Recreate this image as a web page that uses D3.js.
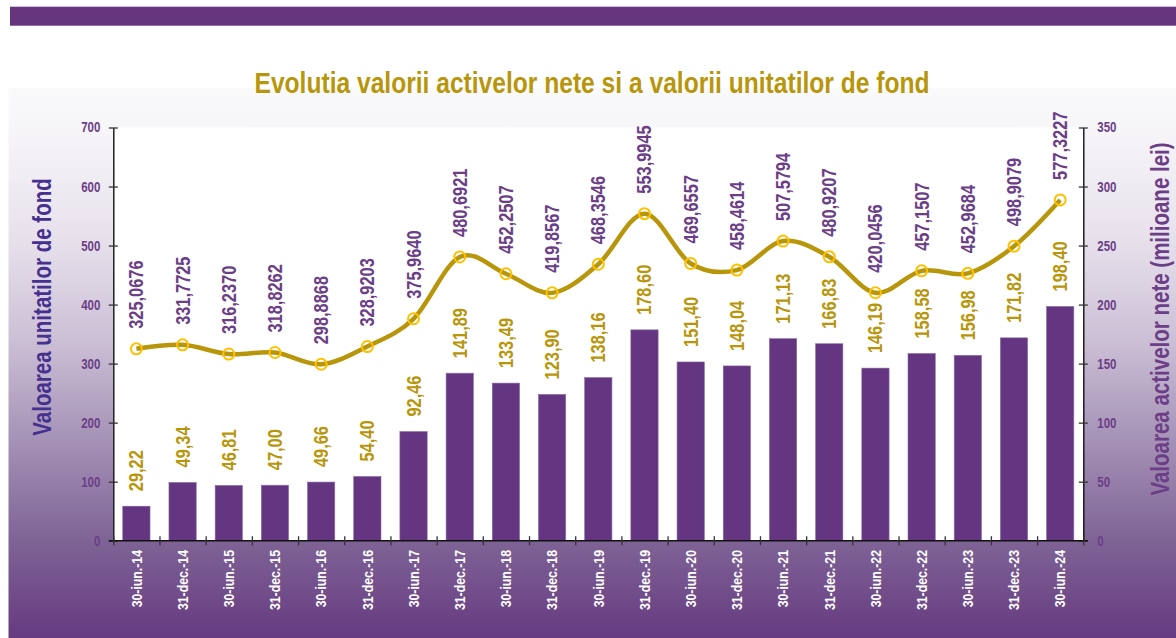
<!DOCTYPE html>
<html>
<head>
<meta charset="utf-8">
<script src="https://cdn.jsdelivr.net/npm/d3@7"></script>
<style>
  body { margin: 0; background: #fff; }
  svg { display: block; }
  text { font-family: "Liberation Sans", Arial, sans-serif; font-weight: bold; }
</style>
</head>
<body>
<div id="chart"></div>
<script>
// categories (x axis)
var categories = ["30-iun.-14", "31-dec.-14", "30-iun.-15", "31-dec.-15", "30-iun.-16", "31-dec.-16",
  "30-iun.-17", "31-dec.-17", "30-iun.-18", "31-dec.-18", "30-iun.-19", "31-dec.-19",
  "30-iun.-20", "31-dec.-20", "30-iun.-21", "31-dec.-21", "30-iun.-22", "31-dec.-22",
  "30-iun.-23", "31-dec.-23", "30-iun.-24"];

// net asset value, million lei (bars, right axis)
var netAssets = [29.22, 49.34, 46.81, 47.00, 49.66, 54.40, 92.46, 141.89, 133.49, 123.90, 138.16,
  178.60, 151.40, 148.04, 171.13, 166.83, 146.19, 158.58, 156.98, 171.82, 198.40];

// unit value (line, left axis)
var unitValues = [325.0676, 331.7725, 316.2370, 318.8262, 298.8868, 328.9203, 375.9640, 480.6921,
  452.2507, 419.8567, 468.3546, 553.9945, 469.6557, 458.4614, 507.5794, 480.9207, 420.0456,
  457.1507, 452.9684, 498.9079, 577.3227];

var leftTicks = [0, 100, 200, 300, 400, 500, 600, 700];
var rightTicks = [0, 50, 100, 150, 200, 250, 300, 350];

var W = 1176, H = 638;
var plot = {left: 113.3, right: 1083.3, top: 127.5, bottom: 540.7};
var narrow = 0.82; // squeeze to look like a condensed face

var purple = "#643580", gold = "#b8960c", labelPurple = "#6b3e87";

var svg = d3.select("#chart").append("svg")
    .attr("width", W).attr("height", H);

// background gradient
var defs = svg.append("defs");
var grad = defs.append("linearGradient").attr("id", "bg")
    .attr("x1", 0).attr("y1", 0).attr("x2", 0).attr("y2", 1);
[[0, "#fafafb"], [0.1, "#f5f3f7"], [0.28, "#e6e0eb"], [0.46, "#cbbfd5"],
 [0.64, "#a592b6"], [0.82, "#7f6496"], [1, "#663a80"]].forEach(function(s) {
    grad.append("stop").attr("offset", s[0]).attr("stop-color", s[1]);
});

svg.append("rect").attr("x", 10).attr("y", 6.7).attr("width", W - 10).attr("height", 19)
    .attr("fill", "#65367d");
svg.append("rect").attr("x", 8.5).attr("y", 88).attr("width", W - 8.5).attr("height", H - 88)
    .attr("fill", "url(#bg)");
svg.append("rect").attr("x", plot.left).attr("y", plot.top)
    .attr("width", plot.right - plot.left).attr("height", plot.bottom - plot.top)
    .attr("fill", "#fff");

// scales
var x = d3.scaleBand().domain(categories).range([plot.left, plot.right])
    .paddingInner(0.41).paddingOuter(0.205);
var xEdge = d3.scaleLinear().domain([0, categories.length]).range([plot.left, plot.right]);
var yLeft = d3.scaleLinear().domain([0, 700]).range([plot.bottom, plot.top]);
var yRight = d3.scaleLinear().domain([0, 350]).range([plot.bottom, plot.top]);
var cx = function(c) { return x(c) + x.bandwidth() / 2; };

// bars
svg.append("g").selectAll("rect").data(categories).join("rect")
    .attr("x", function(c) { return x(c); })
    .attr("y", function(c, i) { return yRight(netAssets[i]); })
    .attr("width", x.bandwidth())
    .attr("height", function(c, i) { return plot.bottom - yRight(netAssets[i]); })
    .attr("fill", purple)
    .attr("stroke", "#8a6aa3").attr("stroke-width", 0.6);

// line
var line = d3.line()
    .x(function(d, i) { return cx(categories[i]); })
    .y(function(d) { return yLeft(d); })
    .curve(d3.curveCatmullRom.alpha(0));

svg.append("path").datum(unitValues)
    .attr("d", line)
    .attr("fill", "none")
    .attr("stroke", gold)
    .attr("stroke-width", 4.5);

svg.append("g").selectAll("circle").data(unitValues).join("circle")
    .attr("cx", function(d, i) { return cx(categories[i]); })
    .attr("cy", function(d) { return yLeft(d); })
    .attr("r", 5.5)
    .attr("fill", "none")
    .attr("stroke", "#ffc000")
    .attr("stroke-width", 2);

var fmt2 = d3.format(".2f"), fmt4 = d3.format(".4f");
var comma = function(s) { return s.replace(".", ","); };

// bar labels
svg.append("g").selectAll("text").data(netAssets).join("text")
    .attr("transform", function(d, i) {
        return "translate(" + cx(categories[i]) + "," + (yRight(d) - 15) + ") rotate(-90) scale(" + narrow + ",1)";
    })
    .attr("dy", "0.35em")
    .attr("font-size", 20)
    .attr("fill", gold)
    .text(function(d) { return comma(fmt2(d)); });

// line labels
svg.append("g").selectAll("text").data(unitValues).join("text")
    .attr("transform", function(d, i) {
        return "translate(" + cx(categories[i]) + "," + (yLeft(d) - 20) + ") rotate(-90) scale(" + narrow + ",1)";
    })
    .attr("dy", "0.35em")
    .attr("font-size", 20)
    .attr("fill", labelPurple)
    .text(function(d) { return comma(fmt4(d)); });

// left axis
var gl = svg.append("g")
    .attr("transform", "translate(" + plot.left + ",0)")
    .call(d3.axisLeft(yLeft).tickValues(leftTicks).tickSizeOuter(0).tickFormat(d3.format("d")));
// right axis
var gr = svg.append("g")
    .attr("transform", "translate(" + plot.right + ",0)")
    .call(d3.axisRight(yRight).tickValues(rightTicks).tickSizeOuter(0).tickFormat(d3.format("d")));

[gl, gr].forEach(function(g, k) {
    g.select(".domain").attr("stroke", "#111").attr("stroke-width", 1.4);
    g.selectAll(".tick line").attr("x1", -4.5).attr("x2", 4.5).attr("stroke", "#333").attr("stroke-width", 1.3);
    g.selectAll(".tick text")
        .attr("x", (k === 0 ? -13 : 14) / narrow)
        .attr("transform", "scale(" + narrow + ",1)")
        .attr("font-size", 14)
        .attr("fill", labelPurple)
        .attr("font-family", null);
});

// bottom axis: ticks on category edges, labels on category centres
var gb = svg.append("g")
    .attr("transform", "translate(0," + plot.bottom + ")")
    .call(d3.axisBottom(xEdge).tickValues(d3.range(0, categories.length + 1)).tickSizeOuter(0).tickFormat(""));
gb.select(".domain").attr("d", "M" + (plot.left - 4.5) + ",0H" + (plot.right + 4.5))
    .attr("stroke", "#111").attr("stroke-width", 1.4);
gb.selectAll(".tick line").attr("y1", -4.5).attr("y2", 4.5).attr("stroke", "#333").attr("stroke-width", 1.3);

var gc = svg.append("g")
    .attr("transform", "translate(0," + plot.bottom + ")")
    .call(d3.axisBottom(x).tickSize(0));
gc.select(".domain").remove();
gc.selectAll(".tick text")
    .attr("y", null).attr("dy", "0.35em")
    .attr("x", -9.3 / narrow)
    .attr("transform", "rotate(-90) scale(" + narrow + ",1)")
    .attr("text-anchor", "end")
    .attr("font-size", 15)
    .attr("fill", "#fff")
    .attr("font-family", null);

// titles
svg.append("text")
    .attr("transform", "translate(592,93) scale(" + narrow + ",1)")
    .attr("text-anchor", "middle")
    .attr("font-size", 30)
    .attr("fill", gold)
    .text("Evolutia valorii activelor nete si a valorii unitatilor de fond");

svg.append("text")
    .attr("transform", "translate(51,307) rotate(-90) scale(" + narrow + ",1)")
    .attr("text-anchor", "middle")
    .attr("font-size", 25)
    .attr("fill", "#46308f")
    .text("Valoarea unitatilor de fond");

svg.append("text")
    .attr("transform", "translate(1169,319) rotate(-90) scale(" + narrow + ",1)")
    .attr("text-anchor", "middle")
    .attr("font-size", 25)
    .attr("fill", labelPurple)
    .text("Valoarea activelor nete (milioane lei)");
</script>
</body>
</html>
